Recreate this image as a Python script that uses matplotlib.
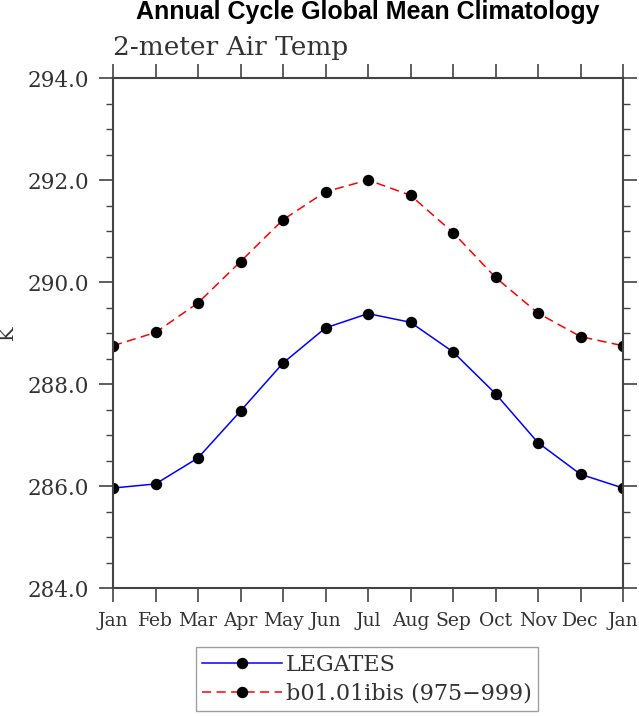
import numpy as np
import matplotlib
matplotlib.use("Agg")
import matplotlib.pyplot as plt
from matplotlib.ticker import MultipleLocator, FormatStrFormatter

months = ["Jan", "Feb", "Mar", "Apr", "May", "Jun", "Jul",
          "Aug", "Sep", "Oct", "Nov", "Dec", "Jan"]

# values (K)
legates = [285.96, 286.04, 286.55, 287.47, 288.41, 289.10, 289.38,
           289.21, 288.63, 287.81, 286.85, 286.23, 285.96]
ibis = [288.75, 289.01, 289.59, 290.40, 291.22, 291.77, 292.00,
        291.70, 290.97, 290.09, 289.39, 288.93, 288.75]

serif = "DejaVu Serif"
txt_col = "#333333"

fig = plt.figure(figsize=(6.39, 7.16), dpi=100)
ax = fig.add_axes([113 / 639, 1 - 588 / 716, 510 / 639, 510 / 716])

x = np.arange(len(months))
ax.plot(x, legates, color="blue", lw=1.1, marker="o", ms=7.2,
        mfc="black", mec="black", label="LEGATES")
ax.plot(x, ibis, color="red", lw=1.1, ls=(0, (6, 3.5)), marker="o", ms=7.2,
        mfc="black", mec="black", label="b01.01ibis (975\u2212999)")

ax.set_xlim(0, 12)
ax.set_ylim(284, 294)
ax.set_xticks(x)
ax.set_xticklabels(months)
ax.yaxis.set_major_locator(MultipleLocator(2))
ax.yaxis.set_minor_locator(MultipleLocator(0.5))
ax.yaxis.set_major_formatter(FormatStrFormatter("%.1f"))

ax.tick_params(axis="both", which="major", direction="out", length=10,
               width=1.2, color="#444444", top=True, right=True,
               labelcolor=txt_col, labelfontfamily=serif)
ax.tick_params(axis="x", which="major", labelsize=13.5, pad=7)
ax.tick_params(axis="y", which="major", labelsize=15.5, pad=7)
ax.tick_params(axis="y", which="minor", direction="out", length=5,
               width=1.0, color="#444444", right=True)
for sp in ax.spines.values():
    sp.set_linewidth(1.5)
    sp.set_color("#444444")

fig.text(8 / 639, 1 - 333 / 716, "K", rotation=90, ha="center", va="center",
         fontfamily=serif, fontsize=14, color=txt_col)

fig.text(368 / 639, 1 - 12 / 716, "Annual Cycle Global Mean Climatology",
         ha="center", va="center", fontsize=18, fontweight="bold",
         fontfamily="Liberation Sans")
ax.text(0.0, 1.035, "2-meter Air Temp", transform=ax.transAxes,
        ha="left", va="bottom", fontfamily=serif, fontsize=19, color=txt_col)

leg = ax.legend(loc="upper center", bbox_to_anchor=(367 / 639, 1 - 647 / 716),
                bbox_transform=fig.transFigure, numpoints=1, fancybox=False,
                handlelength=3.6, handletextpad=0.15, borderpad=0.3,
                labelspacing=0.3, borderaxespad=0,
                prop={"family": serif, "size": 16})
leg.get_frame().set_edgecolor("#888888")
leg.get_frame().set_linewidth(1.0)
for t in leg.get_texts():
    t.set_color(txt_col)

fig.savefig("out.png", dpi=100)
